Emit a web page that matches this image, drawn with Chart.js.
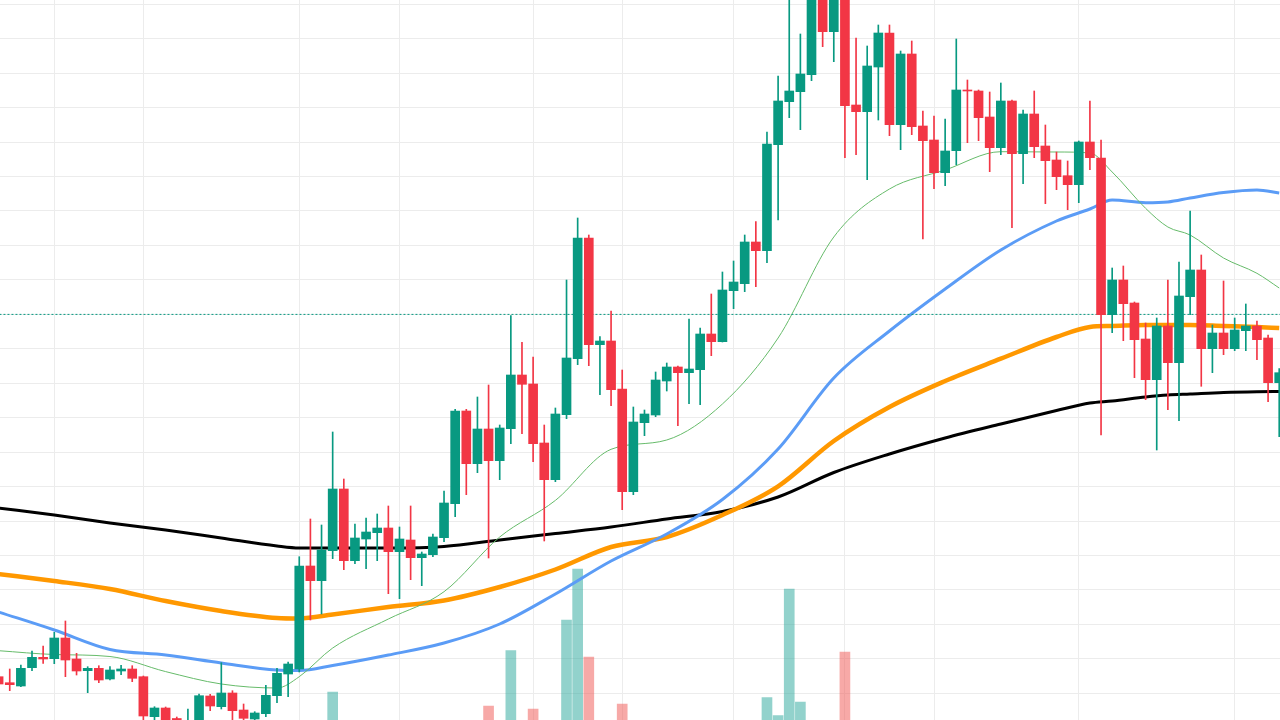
<!DOCTYPE html>
<html>
<head>
<meta charset="utf-8">
<script src="https://cdn.jsdelivr.net/npm/chart.js@4.4.0/dist/chart.umd.min.js"></script>
<style>
  html, body { margin: 0; padding: 0; background: #ffffff; overflow: hidden; }
  canvas { display: block; }
</style>
</head>
<body>
<canvas id="priceChart" width="1280" height="720"></canvas>
<script>
// candle values, one per bar (index = bar number)
var opens = [
  43.3, 37.3, 34, 52.3, 62.7, 61.3, 82, 61, 49.3, 51.7,
  41, 49, 51, 43.3, 3.3, 12, 1.5, -15, -6, 24,
  13.3, 27, 10, 1, 6.3, 24.3, 46, 51, 154, 139.3,
  169.3, 231, 159.3, 181, 187.3, 192, 168.3, 180, 162.3, 165.3,
  182.3, 216.3, 309, 256.3, 291, 259.3, 291.3, 345, 336, 277,
  240.3, 305.3, 361.3, 482, 375.3, 379, 331, 228.3, 297.3, 305,
  339, 353, 347.3, 350.3, 386, 378.3, 429.3, 436.3, 478, 469.3,
  575.3, 618.3, 628.3, 645.3, 730, 688.3, 725, 615, 608.3, 653,
  687, 595.3, 666, 594, 580, 547.3, 569.3, 630, 629, 603,
  572.3, 619, 566.3, 606, 574, 560, 544.3, 535.3, 578, 562,
  405.3, 440, 417, 381, 340.3, 394, 357.3, 423.3, 450, 371.3,
  387, 371.3, 389.3, 394, 382, 337.3
];
var closes = [
  36, 35.3, 51.7, 62.7, 61, 82, 60, 49, 51.7, 40,
  50, 51, 41.7, 4, 12, -4, -5, -4, 24.3, 14,
  27, 9.3, 1.7, 7, 24.7, 46.7, 56, 154, 139.3, 170,
  231, 159.3, 182, 188, 192, 168.3, 181, 162.3, 166, 183,
  217, 309, 256.3, 291, 259.3, 292, 345, 335.7, 276.3, 240.3,
  306, 362, 482, 375.3, 379, 330.3, 228.3, 298, 306, 340,
  353, 347.3, 351, 386, 378.3, 430, 438, 478, 469.3, 576,
  619, 629, 646, 728, 688.3, 725, 614.3, 608.3, 654, 687,
  595.3, 666, 593.3, 579.3, 547.3, 569, 630, 629, 602.3, 572.3,
  619, 566.3, 606, 573.3, 559.3, 543.3, 535.3, 578, 562.3, 405.3,
  440, 416.3, 380.3, 340.3, 394, 357.3, 424, 450, 371.3, 387,
  371.3, 390, 394, 380.3, 337.3, 347.3
];
var highs = [
  45, 51, 55, 69, 74, 87.7, 99, 66.7, 53.3, 54.3,
  53.3, 54.7, 54.3, 44, 13.3, 13, 3, 11, 26, 25.7,
  57.3, 29.3, 16, 8.3, 34.7, 51.7, 58, 163.3, 201, 195,
  288, 241, 196, 202, 206, 214, 193, 214, 168, 186,
  229, 310.7, 310.7, 323, 335, 295, 404.3, 377.7, 363, 295,
  312, 440, 502, 485, 383.3, 409, 350, 313, 310, 348,
  357, 354, 401, 392, 426, 448, 459, 485, 498.3, 588,
  644, 725, 686, 740, 740, 735, 732, 682, 674, 695,
  695, 669, 679, 609, 604, 601, 681, 640, 630, 628,
  637, 620, 610, 629, 595, 568, 559, 579, 619, 580,
  452, 454, 418, 397, 402, 440, 458, 509, 465, 395,
  439, 402, 416, 399, 385, 351.3
];
var lows = [
  33, 29.3, 33.3, 49.3, 56.7, 56.3, 43.3, 45, 27.3, 37.3,
  40, 45.3, 38.3, -2, -2, -8, -10, -20, -10, 9.3,
  11, -1, -2, -0.5, 3.3, 17.3, 23.3, 48, 100, 106,
  161.3, 150.3, 156.3, 151.3, 159.3, 126.3, 121.3, 140.3, 134.3, 163.3,
  178.3, 203.3, 225.3, 247.3, 162, 240.3, 276.3, 286.3, 258.3, 179,
  238.3, 301.3, 355.3, 354.3, 325.3, 314.3, 210.3, 225.3, 284.3, 303.3,
  329, 294.3, 316.3, 315.3, 364.3, 378, 411.3, 428.3, 433.3, 457.3,
  500, 602.3, 590.3, 639.3, 673.3, 658.3, 562.3, 565.3, 540.3, 600,
  584.3, 570.3, 585.3, 481, 531.3, 534.3, 555.3, 577.3, 579.3, 548.3,
  565.3, 492.3, 536.3, 562.3, 516.3, 530.3, 510.3, 517.3, 550.3, 285,
  387.3, 379.3, 342.3, 320.3, 270, 310.3, 299.3, 405.3, 333.7, 347.3,
  365.3, 369.3, 369.3, 360.3, 318.3, 283.3
];
var volumes = [
  55, 48, 62, 58, 45, 70, 85, 60, 52, 47,
  44, 40, 50, 92, 66, 71, 58, 64, 80, 57,
  75, 68, 62, 55, 74, 82, 78, 96, 88, 79,
  128, 93, 70, 61, 58, 72, 66, 69, 54, 60,
  85, 97, 90, 76, 114, 80, 169.3, 88, 111, 95,
  98, 200, 251, 163, 84, 92, 116, 89, 64, 70,
  58, 66, 72, 83, 77, 95, 70, 88, 75, 122.3,
  104.3, 231, 118, 99, 96, 94, 168, 90, 86, 82,
  97, 85, 80, 92, 78, 70, 91, 60, 65, 74,
  80, 88, 72, 69, 76, 62, 58, 79, 73, 98,
  90, 77, 81, 85, 94, 83, 92, 95, 91, 70,
  74, 66, 55, 63, 84, 60
];

// moving averages read at these bar numbers
var maIdx = [0, 5, 10, 15, 20, 25, 27, 30, 35, 40, 45, 50, 55, 60, 65, 70, 75, 80, 85, 90, 95, 98, 100, 103, 105, 107, 110, 113, 115];
var ma20  = [69.3, 65.5, 63.5, 48.4, 36, 32, 43.3, 72, 101, 128.3, 183, 219.6, 270.7, 280, 316, 382, 483, 531, 550, 568.3, 568, 567, 548, 511.7, 493, 485, 462, 446.7, 432];
var ma50  = [108, 90, 70.5, 65, 57, 50, 49.5, 54.5, 65, 77, 96, 126, 159, 186, 220.5, 271, 342, 389, 431, 470, 499, 511, 520, 517.3, 518, 522, 527.5, 530, 527];
var ma100 = [146, 139, 131, 119, 109, 102, 101.5, 105.5, 113, 119.5, 133, 150.5, 173, 183, 205, 233.7, 279, 313, 339, 361.3, 383, 393, 394, 395, 395, 395, 394, 393, 392];
var ma200 = [212, 205, 197, 190, 182, 174, 172, 172, 172, 173.5, 180, 186.5, 193, 201, 208.5, 223, 247.5, 266, 282, 296, 309.5, 317, 319, 323, 325, 326, 327.5, 328.3, 328.5];

var priceLine = 405.6;
var yGrid = [26.7, 61.15, 95.6, 130.05, 164.5, 198.95, 233.4, 267.85, 302.3, 336.75, 371.2,
             405.65, 440.1, 474.55, 509, 543.45, 577.9, 612.35, 646.8, 681.25, 715.7];
var xGrid = [5, 13, 27, 36, 48, 56, 66, 76, 84, 97, 111];

var upColor = '#089981';
var downColor = '#f23645';
var upVol = 'rgba(38,166,154,0.5)';
var downVol = 'rgba(239,83,80,0.5)';

function maPoints(values) {
  return maIdx.map(function (x, k) { return { x: x, y: values[k] }; });
}

function maLine(values, color, width, order) {
  return {
    type: 'line',
    data: maPoints(values),
    borderColor: color,
    borderWidth: width,
    pointRadius: 0,
    cubicInterpolationMode: 'monotone',
    yAxisID: 'y',
    order: order
  };
}

function drawChart(id) {
  var ctx = document.getElementById(id).getContext('2d');

  var bodies = [], wicks = [], vols = [], colors = [], volColors = [];
  opens.forEach(function (o, i) {
    var up = closes[i] >= o;
    bodies.push({ x: i, y: [o, closes[i]] });
    wicks.push({ x: i, y: [lows[i], highs[i]] });
    vols.push({ x: i, y: volumes[i] });
    colors.push(up ? upColor : downColor);
    volColors.push(up ? upVol : downVol);
  });

  new Chart(ctx, {
    type: 'bar',
    data: {
      datasets: [
        { data: vols, backgroundColor: volColors, barThickness: 10, grouped: false, yAxisID: 'yv', order: 9 },
        maLine(ma200, '#000000', 3, 8),
        maLine(ma100, '#ff9800', 4.5, 7),
        maLine(ma50, '#5b9cf6', 3, 6),
        maLine(ma20, '#66bb6a', 1, 5),
        {
          type: 'line',
          data: [{ x: -1, y: priceLine }, { x: 117, y: priceLine }],
          borderColor: upColor, borderWidth: 1, borderDash: [2, 2],
          pointRadius: 0, yAxisID: 'y', order: 4
        },
        { data: wicks, backgroundColor: colors, barThickness: 1, grouped: false, yAxisID: 'y', order: 2 },
        { data: bodies, backgroundColor: colors, barThickness: 9, minBarLength: 1, grouped: false, yAxisID: 'y', order: 1 }
      ]
    },
    options: {
      responsive: false,
      animation: false,
      layout: { padding: 0 },
      plugins: { legend: { display: false }, tooltip: { enabled: false } },
      scales: {
        x: {
          type: 'linear', min: 0.126, max: 115.07, offset: false,
          ticks: { display: false },
          border: { display: false },
          grid: { color: '#ececec', drawTicks: false, offset: false },
          afterBuildTicks: function (axis) { axis.ticks = xGrid.map(function (v) { return { value: v }; }); }
        },
        y: {
          min: 0, max: 720,
          ticks: { display: false },
          border: { display: false },
          grid: { color: '#ececec', drawTicks: false },
          afterBuildTicks: function (axis) { axis.ticks = yGrid.map(function (v) { return { value: v }; }); }
        },
        yv: {
          display: false, min: 100, max: 820
        }
      }
    }
  });
}

drawChart('priceChart');
</script>
</body>
</html>
